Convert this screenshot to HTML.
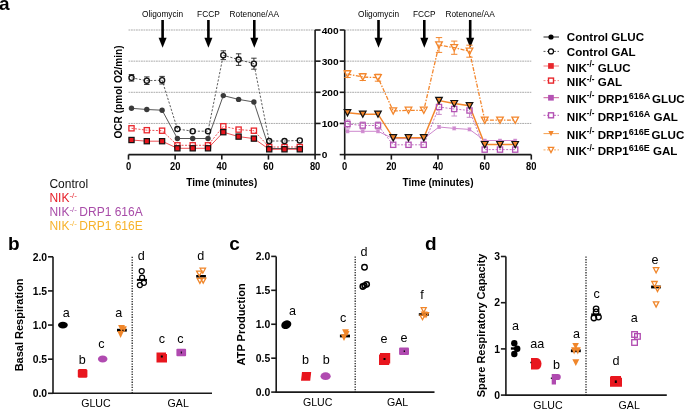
<!DOCTYPE html>
<html><head><meta charset="utf-8"><style>
html,body{margin:0;padding:0;background:#fff;width:685px;height:410px;overflow:hidden}
svg{display:block;font-family:"Liberation Sans", sans-serif;will-change:transform}
</style></head><body>
<svg width="685" height="410" viewBox="0 0 685 410" font-family='"Liberation Sans", sans-serif'>
<rect width="685" height="410" fill="#fff"/>
<text x="-1.0" y="9.9" font-size="19" font-weight="bold" text-anchor="start" fill="#000" >a</text>
<line x1="128.5" y1="123.44999999999999" x2="315.1" y2="123.44999999999999" stroke="#9c9c9c" stroke-width="0.85" stroke-dasharray="1.8,0.7"/>
<line x1="128.5" y1="92.3" x2="315.1" y2="92.3" stroke="#9c9c9c" stroke-width="0.85" stroke-dasharray="1.8,0.7"/>
<line x1="128.5" y1="61.14999999999999" x2="315.1" y2="61.14999999999999" stroke="#9c9c9c" stroke-width="0.85" stroke-dasharray="1.8,0.7"/>
<line x1="128.5" y1="30.0" x2="315.1" y2="30.0" stroke="#9c9c9c" stroke-width="0.85" stroke-dasharray="1.8,0.7"/>
<line x1="128.5" y1="154.6" x2="315.1" y2="154.6" stroke="#1a1a1a" stroke-width="1.6"/>
<line x1="315.1" y1="30.0" x2="315.1" y2="155.29999999999998" stroke="#1a1a1a" stroke-width="1.6"/>
<line x1="315.1" y1="154.6" x2="320.6" y2="154.6" stroke="#1a1a1a" stroke-width="1.6"/>
<line x1="315.1" y1="123.44999999999999" x2="320.6" y2="123.44999999999999" stroke="#1a1a1a" stroke-width="1.6"/>
<line x1="315.1" y1="92.3" x2="320.6" y2="92.3" stroke="#1a1a1a" stroke-width="1.6"/>
<line x1="315.1" y1="61.14999999999999" x2="320.6" y2="61.14999999999999" stroke="#1a1a1a" stroke-width="1.6"/>
<line x1="315.1" y1="30.0" x2="320.6" y2="30.0" stroke="#1a1a1a" stroke-width="1.6"/>
<line x1="128.5" y1="154.6" x2="128.5" y2="159.6" stroke="#1a1a1a" stroke-width="1.6"/>
<text transform="translate(128.5,169.8) scale(0.9,1)" font-size="10.4" font-weight="bold" text-anchor="middle" fill="#000" >0</text>
<line x1="175.15" y1="154.6" x2="175.15" y2="159.6" stroke="#1a1a1a" stroke-width="1.6"/>
<text transform="translate(175.15,169.8) scale(0.9,1)" font-size="10.4" font-weight="bold" text-anchor="middle" fill="#000" >20</text>
<line x1="221.8" y1="154.6" x2="221.8" y2="159.6" stroke="#1a1a1a" stroke-width="1.6"/>
<text transform="translate(221.8,169.8) scale(0.9,1)" font-size="10.4" font-weight="bold" text-anchor="middle" fill="#000" >40</text>
<line x1="268.45" y1="154.6" x2="268.45" y2="159.6" stroke="#1a1a1a" stroke-width="1.6"/>
<text transform="translate(268.45,169.8) scale(0.9,1)" font-size="10.4" font-weight="bold" text-anchor="middle" fill="#000" >60</text>
<line x1="315.1" y1="154.6" x2="315.1" y2="159.6" stroke="#1a1a1a" stroke-width="1.6"/>
<text transform="translate(315.1,169.8) scale(0.9,1)" font-size="10.4" font-weight="bold" text-anchor="middle" fill="#000" >80</text>
<text x="221.8" y="185.8" font-size="10" font-weight="bold" text-anchor="middle" fill="#000" >Time (minutes)</text>
<rect x="161.29999999999998" y="20" width="2.6" height="19" fill="#000"/>
<path d="M158.6 37.8 L166.6 37.8 L162.6 47.7 Z" fill="#000"/>
<text x="162.6" y="16.6" font-size="8.3" font-weight="normal" text-anchor="middle" fill="#000" >Oligomycin</text>
<rect x="207.1" y="20" width="2.6" height="19" fill="#000"/>
<path d="M204.4 37.8 L212.4 37.8 L208.4 47.7 Z" fill="#000"/>
<text x="208.4" y="16.6" font-size="8.3" font-weight="normal" text-anchor="middle" fill="#000" >FCCP</text>
<rect x="253.0" y="20" width="2.6" height="19" fill="#000"/>
<path d="M250.3 37.8 L258.3 37.8 L254.3 47.7 Z" fill="#000"/>
<text x="254.3" y="16.6" font-size="8.3" font-weight="normal" text-anchor="middle" fill="#000" >Rotenone/AA</text>
<line x1="344.7" y1="123.44999999999999" x2="531.3" y2="123.44999999999999" stroke="#9c9c9c" stroke-width="0.85" stroke-dasharray="1.8,0.7"/>
<line x1="344.7" y1="92.3" x2="531.3" y2="92.3" stroke="#9c9c9c" stroke-width="0.85" stroke-dasharray="1.8,0.7"/>
<line x1="344.7" y1="61.14999999999999" x2="531.3" y2="61.14999999999999" stroke="#9c9c9c" stroke-width="0.85" stroke-dasharray="1.8,0.7"/>
<line x1="344.7" y1="30.0" x2="531.3" y2="30.0" stroke="#9c9c9c" stroke-width="0.85" stroke-dasharray="1.8,0.7"/>
<line x1="344.7" y1="154.6" x2="531.3" y2="154.6" stroke="#1a1a1a" stroke-width="1.6"/>
<line x1="344.7" y1="30.0" x2="344.7" y2="155.29999999999998" stroke="#1a1a1a" stroke-width="1.6"/>
<line x1="339.7" y1="154.6" x2="344.7" y2="154.6" stroke="#1a1a1a" stroke-width="1.6"/>
<line x1="339.7" y1="123.44999999999999" x2="344.7" y2="123.44999999999999" stroke="#1a1a1a" stroke-width="1.6"/>
<line x1="339.7" y1="92.3" x2="344.7" y2="92.3" stroke="#1a1a1a" stroke-width="1.6"/>
<line x1="339.7" y1="61.14999999999999" x2="344.7" y2="61.14999999999999" stroke="#1a1a1a" stroke-width="1.6"/>
<line x1="339.7" y1="30.0" x2="344.7" y2="30.0" stroke="#1a1a1a" stroke-width="1.6"/>
<line x1="344.7" y1="154.6" x2="344.7" y2="159.6" stroke="#1a1a1a" stroke-width="1.6"/>
<text transform="translate(344.7,169.8) scale(0.9,1)" font-size="10.4" font-weight="bold" text-anchor="middle" fill="#000" >0</text>
<line x1="391.34999999999997" y1="154.6" x2="391.34999999999997" y2="159.6" stroke="#1a1a1a" stroke-width="1.6"/>
<text transform="translate(391.34999999999997,169.8) scale(0.9,1)" font-size="10.4" font-weight="bold" text-anchor="middle" fill="#000" >20</text>
<line x1="438.0" y1="154.6" x2="438.0" y2="159.6" stroke="#1a1a1a" stroke-width="1.6"/>
<text transform="translate(438.0,169.8) scale(0.9,1)" font-size="10.4" font-weight="bold" text-anchor="middle" fill="#000" >40</text>
<line x1="484.65" y1="154.6" x2="484.65" y2="159.6" stroke="#1a1a1a" stroke-width="1.6"/>
<text transform="translate(484.65,169.8) scale(0.9,1)" font-size="10.4" font-weight="bold" text-anchor="middle" fill="#000" >60</text>
<line x1="531.3" y1="154.6" x2="531.3" y2="159.6" stroke="#1a1a1a" stroke-width="1.6"/>
<text transform="translate(531.3,169.8) scale(0.9,1)" font-size="10.4" font-weight="bold" text-anchor="middle" fill="#000" >80</text>
<text x="438.0" y="185.8" font-size="10" font-weight="bold" text-anchor="middle" fill="#000" >Time (minutes)</text>
<rect x="377.2" y="20" width="2.6" height="19" fill="#000"/>
<path d="M374.5 37.8 L382.5 37.8 L378.5 47.7 Z" fill="#000"/>
<text x="378.5" y="16.6" font-size="8.3" font-weight="normal" text-anchor="middle" fill="#000" >Oligomycin</text>
<rect x="423.0" y="20" width="2.6" height="19" fill="#000"/>
<path d="M420.3 37.8 L428.3 37.8 L424.3 47.7 Z" fill="#000"/>
<text x="424.3" y="16.6" font-size="8.3" font-weight="normal" text-anchor="middle" fill="#000" >FCCP</text>
<rect x="468.90000000000003" y="20" width="2.6" height="19" fill="#000"/>
<path d="M466.20000000000005 37.8 L474.20000000000005 37.8 L470.20000000000005 47.7 Z" fill="#000"/>
<text x="470.20000000000005" y="16.6" font-size="8.3" font-weight="normal" text-anchor="middle" fill="#000" >Rotenone/AA</text>
<text transform="translate(321.7,158.2) scale(1.06,1)" font-size="9.6" font-weight="bold" text-anchor="start" fill="#000" >0</text>
<text transform="translate(321.7,127.04999999999998) scale(1.06,1)" font-size="9.6" font-weight="bold" text-anchor="start" fill="#000" >100</text>
<text transform="translate(321.7,95.89999999999999) scale(1.06,1)" font-size="9.6" font-weight="bold" text-anchor="start" fill="#000" >200</text>
<text transform="translate(321.7,64.74999999999999) scale(1.06,1)" font-size="9.6" font-weight="bold" text-anchor="start" fill="#000" >300</text>
<text transform="translate(321.7,33.6) scale(1.06,1)" font-size="9.6" font-weight="bold" text-anchor="start" fill="#000" >400</text>
<text transform="translate(122.1,92.0) rotate(-90)" font-size="10.1" font-weight="bold" text-anchor="middle">OCR (pmol O2/min)</text>
<polyline points="131.5,140.0 146.8,141.2 162.1,141.2 177.4,148.3 192.7,148.3 208.0,148.3 223.3,132.2 238.6,136.6 253.9,138.6 269.2,149.3 284.5,149.3 299.8,149.3" fill="none" stroke="#e8262c" stroke-width="0.8"/>
<polyline points="131.5,128.3 146.8,130.2 162.1,130.7 177.4,145.3 192.7,145.3 208.0,145.3 223.3,126.3 238.6,129.6 253.9,130.7 269.2,147.0 284.5,147.0 299.8,147.0" fill="none" stroke="#e8262c" stroke-width="0.8" stroke-dasharray="2,1.5"/>
<polyline points="131.5,108.3 146.8,109.5 162.1,110.2 177.4,138.5 192.7,138.5 208.0,138.5 223.3,95.6 238.6,99.4 253.9,102.0 269.2,148.5 284.5,148.5 299.8,148.5" fill="none" stroke="#444" stroke-width="0.9"/>
<polyline points="131.5,77.8 146.8,80.7 162.1,80.2 177.4,129.0 192.7,131.2 208.0,131.2 223.3,55.2 238.6,59.6 253.9,63.7 269.2,141.0 284.5,141.0 299.8,140.4" fill="none" stroke="#333" stroke-width="0.8" stroke-dasharray="2.2,1.6"/>
<path d="M131.5 74.5V75.3M131.5 80.3V81.1M128.8 74.5H134.2M128.8 81.1H134.2" stroke="#222" stroke-width="0.9" fill="none"/>
<path d="M146.8 76.9V78.2M146.8 83.2V84.5M144.1 76.9H149.5M144.1 84.5H149.5" stroke="#222" stroke-width="0.9" fill="none"/>
<path d="M162.1 76.4V77.7M162.1 82.7V84.0M159.4 76.4H164.8M159.4 84.0H164.8" stroke="#222" stroke-width="0.9" fill="none"/>
<path d="M223.3 50.8V52.7M223.3 57.7V59.6M220.6 50.8H226.0M220.6 59.6H226.0" stroke="#222" stroke-width="0.9" fill="none"/>
<path d="M238.6 53.8V57.1M238.6 62.1V65.4M235.9 53.8H241.3M235.9 65.4H241.3" stroke="#222" stroke-width="0.9" fill="none"/>
<path d="M253.9 58.2V61.2M253.9 66.2V69.2M251.2 58.2H256.6M251.2 69.2H256.6" stroke="#222" stroke-width="0.9" fill="none"/>
<circle cx="131.5" cy="108.3" r="2.7" fill="#3a3a3a" stroke="none" stroke-width="0"/>
<circle cx="146.8" cy="109.5" r="2.7" fill="#3a3a3a" stroke="none" stroke-width="0"/>
<circle cx="162.1" cy="110.2" r="2.7" fill="#3a3a3a" stroke="none" stroke-width="0"/>
<circle cx="177.4" cy="138.5" r="2.7" fill="#3a3a3a" stroke="none" stroke-width="0"/>
<circle cx="192.7" cy="138.5" r="2.7" fill="#3a3a3a" stroke="none" stroke-width="0"/>
<circle cx="208.0" cy="138.5" r="2.7" fill="#3a3a3a" stroke="none" stroke-width="0"/>
<circle cx="223.3" cy="95.6" r="2.7" fill="#3a3a3a" stroke="none" stroke-width="0"/>
<circle cx="238.6" cy="99.4" r="2.7" fill="#3a3a3a" stroke="none" stroke-width="0"/>
<circle cx="253.9" cy="102.0" r="2.7" fill="#3a3a3a" stroke="none" stroke-width="0"/>
<circle cx="269.2" cy="148.5" r="2.7" fill="#3a3a3a" stroke="none" stroke-width="0"/>
<circle cx="284.5" cy="148.5" r="2.7" fill="#3a3a3a" stroke="none" stroke-width="0"/>
<circle cx="299.8" cy="148.5" r="2.7" fill="#3a3a3a" stroke="none" stroke-width="0"/>
<rect x="128.9" y="125.7" width="5.2" height="5.2" fill="none" stroke="#e8262c" stroke-width="1.3"/>
<rect x="144.2" y="127.6" width="5.2" height="5.2" fill="none" stroke="#e8262c" stroke-width="1.3"/>
<rect x="159.5" y="128.1" width="5.2" height="5.2" fill="none" stroke="#e8262c" stroke-width="1.3"/>
<rect x="174.8" y="142.7" width="5.2" height="5.2" fill="none" stroke="#e8262c" stroke-width="1.3"/>
<rect x="190.1" y="142.7" width="5.2" height="5.2" fill="none" stroke="#e8262c" stroke-width="1.3"/>
<rect x="205.4" y="142.7" width="5.2" height="5.2" fill="none" stroke="#e8262c" stroke-width="1.3"/>
<rect x="220.7" y="123.7" width="5.2" height="5.2" fill="none" stroke="#e8262c" stroke-width="1.3"/>
<rect x="236.0" y="127.0" width="5.2" height="5.2" fill="none" stroke="#e8262c" stroke-width="1.3"/>
<rect x="251.3" y="128.1" width="5.2" height="5.2" fill="none" stroke="#e8262c" stroke-width="1.3"/>
<rect x="266.6" y="144.4" width="5.2" height="5.2" fill="none" stroke="#e8262c" stroke-width="1.3"/>
<rect x="281.9" y="144.4" width="5.2" height="5.2" fill="none" stroke="#e8262c" stroke-width="1.3"/>
<rect x="297.2" y="144.4" width="5.2" height="5.2" fill="none" stroke="#e8262c" stroke-width="1.3"/>
<rect x="128.9" y="137.4" width="5.2" height="5.2" fill="#e8141c" stroke="#111" stroke-width="1.2"/>
<rect x="144.2" y="138.6" width="5.2" height="5.2" fill="#e8141c" stroke="#111" stroke-width="1.2"/>
<rect x="159.5" y="138.6" width="5.2" height="5.2" fill="#e8141c" stroke="#111" stroke-width="1.2"/>
<rect x="174.8" y="145.7" width="5.2" height="5.2" fill="#e8141c" stroke="#111" stroke-width="1.2"/>
<rect x="190.1" y="145.7" width="5.2" height="5.2" fill="#e8141c" stroke="#111" stroke-width="1.2"/>
<rect x="205.4" y="145.7" width="5.2" height="5.2" fill="#e8141c" stroke="#111" stroke-width="1.2"/>
<rect x="220.7" y="129.6" width="5.2" height="5.2" fill="#e8141c" stroke="#111" stroke-width="1.2"/>
<rect x="236.0" y="134.0" width="5.2" height="5.2" fill="#e8141c" stroke="#111" stroke-width="1.2"/>
<rect x="251.3" y="136.0" width="5.2" height="5.2" fill="#e8141c" stroke="#111" stroke-width="1.2"/>
<rect x="266.6" y="146.7" width="5.2" height="5.2" fill="#e8141c" stroke="#111" stroke-width="1.2"/>
<rect x="281.9" y="146.7" width="5.2" height="5.2" fill="#e8141c" stroke="#111" stroke-width="1.2"/>
<rect x="297.2" y="146.7" width="5.2" height="5.2" fill="#e8141c" stroke="#111" stroke-width="1.2"/>
<circle cx="131.5" cy="77.8" r="2.55" fill="none" stroke="#111" stroke-width="1.4"/>
<circle cx="146.8" cy="80.7" r="2.55" fill="none" stroke="#111" stroke-width="1.4"/>
<circle cx="162.1" cy="80.2" r="2.55" fill="none" stroke="#111" stroke-width="1.4"/>
<circle cx="177.4" cy="129.0" r="2.55" fill="none" stroke="#111" stroke-width="1.4"/>
<circle cx="192.7" cy="131.2" r="2.55" fill="none" stroke="#111" stroke-width="1.4"/>
<circle cx="208.0" cy="131.2" r="2.55" fill="none" stroke="#111" stroke-width="1.4"/>
<circle cx="223.3" cy="55.2" r="2.55" fill="none" stroke="#111" stroke-width="1.4"/>
<circle cx="238.6" cy="59.6" r="2.55" fill="none" stroke="#111" stroke-width="1.4"/>
<circle cx="253.9" cy="63.7" r="2.55" fill="none" stroke="#111" stroke-width="1.4"/>
<circle cx="269.2" cy="141.0" r="2.55" fill="none" stroke="#111" stroke-width="1.4"/>
<circle cx="284.5" cy="141.0" r="2.55" fill="none" stroke="#111" stroke-width="1.4"/>
<circle cx="299.8" cy="140.4" r="2.55" fill="none" stroke="#111" stroke-width="1.4"/>
<polyline points="347.5,131.3 362.8,131.3 378.0,131.3 393.2,138.6 408.5,138.6 423.8,138.6 439.0,127.0 454.2,128.4 469.5,129.4 484.8,140.5 500.0,140.5 515.2,140.5" fill="none" stroke="#c77bc7" stroke-width="0.9"/>
<polyline points="347.5,124.0 362.8,125.5 378.0,125.5 393.2,144.8 408.5,144.8 423.8,144.8 439.0,107.0 454.2,109.0 469.5,110.5 484.8,149.6 500.0,149.6 515.2,149.6" fill="none" stroke="#b452b4" stroke-width="0.8" stroke-dasharray="2,1.5"/>
<polyline points="347.5,112.8 362.8,114.2 378.0,114.2 393.2,137.8 408.5,137.8 423.8,137.8 439.0,100.5 454.2,103.6 469.5,105.7 484.8,144.6 500.0,144.6 515.2,144.6" fill="none" stroke="#f3862c" stroke-width="1.5"/>
<polyline points="347.5,74.0 362.8,77.0 378.0,77.7 393.2,111.0 408.5,110.3 423.8,110.3 439.0,45.0 454.2,47.7 469.5,51.2 484.8,120.2 500.0,120.2 515.2,120.2" fill="none" stroke="#f3862c" stroke-width="1.3" stroke-dasharray="4,1.5,1.5,1.5"/>
<path d="M347.5 70.5V70.7M347.5 77.3V77.5M344.3 70.5H350.7M344.3 77.5H350.7" stroke="#f3862c" stroke-width="1.0" fill="none"/>
<path d="M362.8 73.5V73.7M362.8 80.3V80.5M359.6 73.5H365.9M359.6 80.5H365.9" stroke="#f3862c" stroke-width="1.0" fill="none"/>
<path d="M378.0 74.2V74.4M378.0 81.0V81.2M374.8 74.2H381.2M374.8 81.2H381.2" stroke="#f3862c" stroke-width="1.0" fill="none"/>
<path d="M439.0 37.6V41.7M439.0 48.3V52.4M435.8 37.6H442.2M435.8 52.4H442.2" stroke="#f3862c" stroke-width="1.0" fill="none"/>
<path d="M454.2 41.1V44.4M454.2 51.0V54.3M451.1 41.1H457.4M451.1 54.3H457.4" stroke="#f3862c" stroke-width="1.0" fill="none"/>
<path d="M469.5 45.2V47.9M469.5 54.5V57.2M466.3 45.2H472.7M466.3 57.2H472.7" stroke="#f3862c" stroke-width="1.0" fill="none"/>
<path d="M347.5 120.0V121.1M347.5 126.9V128.0M344.7 120.0H350.3M344.7 128.0H350.3" stroke="#c98ac9" stroke-width="1.0" fill="none"/>
<path d="M362.8 122.0V122.6M362.8 128.4V129.0M359.9 122.0H365.6M359.9 129.0H365.6" stroke="#c98ac9" stroke-width="1.0" fill="none"/>
<path d="M378.0 122.0V122.6M378.0 128.4V129.0M375.2 122.0H380.8M375.2 129.0H380.8" stroke="#c98ac9" stroke-width="1.0" fill="none"/>
<path d="M439.0 99.6V104.1M439.0 109.9V114.4M436.2 99.6H441.8M436.2 114.4H441.8" stroke="#c98ac9" stroke-width="1.0" fill="none"/>
<path d="M454.2 102.0V106.1M454.2 111.9V116.0M451.4 102.0H457.1M451.4 116.0H457.1" stroke="#c98ac9" stroke-width="1.0" fill="none"/>
<path d="M469.5 103.7V107.6M469.5 113.4V117.3M466.7 103.7H472.3M466.7 117.3H472.3" stroke="#c98ac9" stroke-width="1.0" fill="none"/>
<path d="M347.5 129.8V132.8M345.5 129.8H349.5M345.5 132.8H349.5" stroke="#d9a6d9" stroke-width="0.9" fill="none"/>
<path d="M362.8 129.8V132.8M360.8 129.8H364.8M360.8 132.8H364.8" stroke="#d9a6d9" stroke-width="0.9" fill="none"/>
<path d="M378.0 129.8V132.8M376.0 129.8H380.0M376.0 132.8H380.0" stroke="#d9a6d9" stroke-width="0.9" fill="none"/>
<path d="M393.2 137.6V139.6M391.2 137.6H395.2M391.2 139.6H395.2" stroke="#d9a6d9" stroke-width="0.9" fill="none"/>
<path d="M408.5 137.6V139.6M406.5 137.6H410.5M406.5 139.6H410.5" stroke="#d9a6d9" stroke-width="0.9" fill="none"/>
<path d="M423.8 137.6V139.6M421.8 137.6H425.8M421.8 139.6H425.8" stroke="#d9a6d9" stroke-width="0.9" fill="none"/>
<path d="M439.0 125.5V128.5M437.0 125.5H441.0M437.0 128.5H441.0" stroke="#d9a6d9" stroke-width="0.9" fill="none"/>
<path d="M454.2 126.9V129.9M452.2 126.9H456.2M452.2 129.9H456.2" stroke="#d9a6d9" stroke-width="0.9" fill="none"/>
<path d="M469.5 127.9V130.9M467.5 127.9H471.5M467.5 130.9H471.5" stroke="#d9a6d9" stroke-width="0.9" fill="none"/>
<path d="M484.8 139.3V141.7M482.8 139.3H486.8M482.8 141.7H486.8" stroke="#d9a6d9" stroke-width="0.9" fill="none"/>
<path d="M500.0 139.3V141.7M498.0 139.3H502.0M498.0 141.7H502.0" stroke="#d9a6d9" stroke-width="0.9" fill="none"/>
<path d="M515.2 139.3V141.7M513.2 139.3H517.2M513.2 141.7H517.2" stroke="#d9a6d9" stroke-width="0.9" fill="none"/>
<rect x="345.9" y="129.7" width="3.2" height="3.2" fill="#d08ad0" stroke="none" stroke-width="0"/>
<rect x="361.1" y="129.7" width="3.2" height="3.2" fill="#d08ad0" stroke="none" stroke-width="0"/>
<rect x="376.4" y="129.7" width="3.2" height="3.2" fill="#d08ad0" stroke="none" stroke-width="0"/>
<rect x="391.6" y="137.0" width="3.2" height="3.2" fill="#d08ad0" stroke="none" stroke-width="0"/>
<rect x="406.9" y="137.0" width="3.2" height="3.2" fill="#d08ad0" stroke="none" stroke-width="0"/>
<rect x="422.1" y="137.0" width="3.2" height="3.2" fill="#d08ad0" stroke="none" stroke-width="0"/>
<rect x="437.4" y="125.4" width="3.2" height="3.2" fill="#d08ad0" stroke="none" stroke-width="0"/>
<rect x="452.6" y="126.8" width="3.2" height="3.2" fill="#d08ad0" stroke="none" stroke-width="0"/>
<rect x="467.9" y="127.8" width="3.2" height="3.2" fill="#d08ad0" stroke="none" stroke-width="0"/>
<rect x="483.1" y="138.9" width="3.2" height="3.2" fill="#d08ad0" stroke="none" stroke-width="0"/>
<rect x="498.4" y="138.9" width="3.2" height="3.2" fill="#d08ad0" stroke="none" stroke-width="0"/>
<rect x="513.6" y="138.9" width="3.2" height="3.2" fill="#d08ad0" stroke="none" stroke-width="0"/>
<rect x="344.9" y="121.4" width="5.2" height="5.2" fill="none" stroke="#b452b4" stroke-width="1.3"/>
<rect x="360.1" y="122.9" width="5.2" height="5.2" fill="none" stroke="#b452b4" stroke-width="1.3"/>
<rect x="375.4" y="122.9" width="5.2" height="5.2" fill="none" stroke="#b452b4" stroke-width="1.3"/>
<rect x="390.6" y="142.2" width="5.2" height="5.2" fill="none" stroke="#b452b4" stroke-width="1.3"/>
<rect x="405.9" y="142.2" width="5.2" height="5.2" fill="none" stroke="#b452b4" stroke-width="1.3"/>
<rect x="421.1" y="142.2" width="5.2" height="5.2" fill="none" stroke="#b452b4" stroke-width="1.3"/>
<rect x="436.4" y="104.4" width="5.2" height="5.2" fill="none" stroke="#b452b4" stroke-width="1.3"/>
<rect x="451.6" y="106.4" width="5.2" height="5.2" fill="none" stroke="#b452b4" stroke-width="1.3"/>
<rect x="466.9" y="107.9" width="5.2" height="5.2" fill="none" stroke="#b452b4" stroke-width="1.3"/>
<rect x="482.1" y="147.0" width="5.2" height="5.2" fill="none" stroke="#b452b4" stroke-width="1.3"/>
<rect x="497.4" y="147.0" width="5.2" height="5.2" fill="none" stroke="#b452b4" stroke-width="1.3"/>
<rect x="512.6" y="147.0" width="5.2" height="5.2" fill="none" stroke="#b452b4" stroke-width="1.3"/>
<path d="M344.2 109.7H350.8L347.5 115.9Z" fill="#f3862c" stroke="#111" stroke-width="1.2" stroke-linejoin="miter"/>
<path d="M359.4 111.1H366.1L362.8 117.3Z" fill="#f3862c" stroke="#111" stroke-width="1.2" stroke-linejoin="miter"/>
<path d="M374.7 111.1H381.3L378.0 117.3Z" fill="#f3862c" stroke="#111" stroke-width="1.2" stroke-linejoin="miter"/>
<path d="M389.9 134.7H396.6L393.2 140.9Z" fill="#f3862c" stroke="#111" stroke-width="1.2" stroke-linejoin="miter"/>
<path d="M405.2 134.7H411.8L408.5 140.9Z" fill="#f3862c" stroke="#111" stroke-width="1.2" stroke-linejoin="miter"/>
<path d="M420.4 134.7H427.1L423.8 140.9Z" fill="#f3862c" stroke="#111" stroke-width="1.2" stroke-linejoin="miter"/>
<path d="M435.7 97.4H442.3L439.0 103.6Z" fill="#f3862c" stroke="#111" stroke-width="1.2" stroke-linejoin="miter"/>
<path d="M450.9 100.5H457.6L454.2 106.7Z" fill="#f3862c" stroke="#111" stroke-width="1.2" stroke-linejoin="miter"/>
<path d="M466.2 102.6H472.8L469.5 108.8Z" fill="#f3862c" stroke="#111" stroke-width="1.2" stroke-linejoin="miter"/>
<path d="M481.4 141.5H488.1L484.8 147.7Z" fill="#f3862c" stroke="#111" stroke-width="1.2" stroke-linejoin="miter"/>
<path d="M496.7 141.5H503.3L500.0 147.7Z" fill="#f3862c" stroke="#111" stroke-width="1.2" stroke-linejoin="miter"/>
<path d="M511.9 141.5H518.5L515.2 147.7Z" fill="#f3862c" stroke="#111" stroke-width="1.2" stroke-linejoin="miter"/>
<path d="M344.2 70.9H350.8L347.5 77.1Z" fill="none" stroke="#f3862c" stroke-width="1.3" stroke-linejoin="miter"/>
<path d="M359.4 73.9H366.1L362.8 80.1Z" fill="none" stroke="#f3862c" stroke-width="1.3" stroke-linejoin="miter"/>
<path d="M374.7 74.6H381.3L378.0 80.8Z" fill="none" stroke="#f3862c" stroke-width="1.3" stroke-linejoin="miter"/>
<path d="M389.9 107.9H396.6L393.2 114.1Z" fill="none" stroke="#f3862c" stroke-width="1.3" stroke-linejoin="miter"/>
<path d="M405.2 107.2H411.8L408.5 113.4Z" fill="none" stroke="#f3862c" stroke-width="1.3" stroke-linejoin="miter"/>
<path d="M420.4 107.2H427.1L423.8 113.4Z" fill="none" stroke="#f3862c" stroke-width="1.3" stroke-linejoin="miter"/>
<path d="M435.7 41.9H442.3L439.0 48.1Z" fill="none" stroke="#f3862c" stroke-width="1.3" stroke-linejoin="miter"/>
<path d="M450.9 44.6H457.6L454.2 50.8Z" fill="none" stroke="#f3862c" stroke-width="1.3" stroke-linejoin="miter"/>
<path d="M466.2 48.1H472.8L469.5 54.3Z" fill="none" stroke="#f3862c" stroke-width="1.3" stroke-linejoin="miter"/>
<path d="M481.4 117.1H488.1L484.8 123.3Z" fill="none" stroke="#f3862c" stroke-width="1.3" stroke-linejoin="miter"/>
<path d="M496.7 117.1H503.3L500.0 123.3Z" fill="none" stroke="#f3862c" stroke-width="1.3" stroke-linejoin="miter"/>
<path d="M511.9 117.1H518.5L515.2 123.3Z" fill="none" stroke="#f3862c" stroke-width="1.3" stroke-linejoin="miter"/>
<text x="566.8" y="41.0" font-size="11.6" font-weight="bold" text-anchor="start" fill="#000" >Control GLUC</text>
<line x1="543.5" y1="37.0" x2="559" y2="37.0" stroke="#222" stroke-width="1"/>
<circle cx="551.0" cy="37.0" r="2.6" fill="#000" stroke="none" stroke-width="0"/>
<text x="566.8" y="55.6" font-size="11.6" font-weight="bold" text-anchor="start" fill="#000" >Control GAL</text>
<line x1="543.5" y1="51.4" x2="559" y2="51.4" stroke="#444" stroke-width="0.9" stroke-dasharray="2,1.5"/>
<circle cx="551.0" cy="51.4" r="2.5" fill="#fff" stroke="#000" stroke-width="1.2"/>
<text x="566.8" y="71.7" font-size="11.6" font-weight="bold" text-anchor="start" fill="#000" >NIK<tspan dy="-4.8" font-size="8.2">-/-</tspan><tspan dy="4.8"> GLUC</tspan></text>
<line x1="543.5" y1="66.0" x2="559" y2="66.0" stroke="#f07a7a" stroke-width="1"/>
<rect x="548.1" y="63.1" width="5.7" height="5.7" fill="#e8262c" stroke="none" stroke-width="0"/>
<text x="566.8" y="86.4" font-size="11.6" font-weight="bold" text-anchor="start" fill="#000" >NIK<tspan dy="-4.8" font-size="8.2">-/-</tspan><tspan dy="4.8"> GAL</tspan></text>
<line x1="543.5" y1="80.6" x2="559" y2="80.6" stroke="#f07a7a" stroke-width="0.9" stroke-dasharray="2,1.5"/>
<rect x="548.5" y="78.1" width="5.0" height="5.0" fill="#fff" stroke="#e8262c" stroke-width="1.4"/>
<text x="566.8" y="102.5" font-size="11.6" font-weight="bold" text-anchor="start" fill="#000" >NIK<tspan dy="-4.8" font-size="8.2">-/-</tspan><tspan dy="4.8"> DRP1</tspan><tspan dy="-4" font-size="9">616A</tspan><tspan dy="4" dx="-1.5"> GLUC</tspan></text>
<line x1="543.5" y1="97.7" x2="559" y2="97.7" stroke="#c8609a" stroke-width="1"/>
<rect x="548.1" y="94.9" width="5.7" height="5.7" fill="#b452b4" stroke="none" stroke-width="0"/>
<text x="566.8" y="120.5" font-size="11.6" font-weight="bold" text-anchor="start" fill="#000" >NIK<tspan dy="-4.8" font-size="8.2">-/-</tspan><tspan dy="4.8"> DRP1</tspan><tspan dy="-4" font-size="9">616A</tspan><tspan dy="4"> GAL</tspan></text>
<line x1="543.5" y1="115.3" x2="559" y2="115.3" stroke="#b452b4" stroke-width="0.9" stroke-dasharray="2,1.5"/>
<rect x="548.5" y="112.8" width="5.0" height="5.0" fill="#fff" stroke="#b452b4" stroke-width="1.4"/>
<text x="566.8" y="138.79999999999998" font-size="11.6" font-weight="bold" text-anchor="start" fill="#000" >NIK<tspan dy="-4.8" font-size="8.2">-/-</tspan><tspan dy="4.8"> DRP1</tspan><tspan dy="-4" font-size="9">616E</tspan><tspan dy="4" dx="-1.5"> GLUC</tspan></text>
<line x1="543.5" y1="133.6" x2="559" y2="133.6" stroke="#f5a050" stroke-width="1"/>
<path d="M548.3 131.0H553.7L551.0 136.2Z" fill="#f3862c" stroke="none" stroke-width="0" stroke-linejoin="miter"/>
<text x="566.8" y="155.39999999999998" font-size="11.6" font-weight="bold" text-anchor="start" fill="#000" >NIK<tspan dy="-4.8" font-size="8.2">-/-</tspan><tspan dy="4.8"> DRP1</tspan><tspan dy="-4" font-size="9">616E</tspan><tspan dy="4"> GAL</tspan></text>
<line x1="543.5" y1="149.9" x2="559" y2="149.9" stroke="#f5a050" stroke-width="0.9" stroke-dasharray="2,1.5"/>
<path d="M548.3 147.3H553.7L551.0 152.5Z" fill="#fff" stroke="#f3862c" stroke-width="1.3" stroke-linejoin="miter"/>
<text x="49.4" y="187.9" font-size="12" font-weight="normal" text-anchor="start" fill="#111" >Control</text>
<text x="49.4" y="202.4" font-size="12" font-weight="normal" text-anchor="start" fill="#e61e28" >NIK<tspan dy="-4.5" font-size="8">-/-</tspan></text>
<text x="49.4" y="216.4" font-size="12" font-weight="normal" text-anchor="start" fill="#a84ca8" >NIK<tspan dy="-4.5" font-size="8">-/-</tspan><tspan dy="4.5" dx="-1"> DRP1 616A</tspan></text>
<text x="49.4" y="230.3" font-size="12" font-weight="normal" text-anchor="start" fill="#f7b22a" >NIK<tspan dy="-4.5" font-size="8">-/-</tspan><tspan dy="4.5" dx="-1"> DRP1 616E</tspan></text>
<text x="7.9" y="249.6" font-size="19" font-weight="bold" text-anchor="start" fill="#000" >b</text>
<line x1="53" y1="256.8" x2="53" y2="394.0" stroke="#1a1a1a" stroke-width="1.6"/>
<line x1="52.3" y1="393.3" x2="212" y2="393.3" stroke="#1a1a1a" stroke-width="1.6"/>
<line x1="48" y1="393.3" x2="53" y2="393.3" stroke="#1a1a1a" stroke-width="1.6"/>
<text x="47.1" y="397.0" font-size="10.4" font-weight="bold" text-anchor="end" fill="#000" >0.0</text>
<line x1="48" y1="359.175" x2="53" y2="359.175" stroke="#1a1a1a" stroke-width="1.6"/>
<text x="47.1" y="362.875" font-size="10.4" font-weight="bold" text-anchor="end" fill="#000" >0.5</text>
<line x1="48" y1="325.05" x2="53" y2="325.05" stroke="#1a1a1a" stroke-width="1.6"/>
<text x="47.1" y="328.75" font-size="10.4" font-weight="bold" text-anchor="end" fill="#000" >1.0</text>
<line x1="48" y1="290.925" x2="53" y2="290.925" stroke="#1a1a1a" stroke-width="1.6"/>
<text x="47.1" y="294.625" font-size="10.4" font-weight="bold" text-anchor="end" fill="#000" >1.5</text>
<line x1="48" y1="256.8" x2="53" y2="256.8" stroke="#1a1a1a" stroke-width="1.6"/>
<text x="47.1" y="260.5" font-size="10.4" font-weight="bold" text-anchor="end" fill="#000" >2.0</text>
<line x1="132.2" y1="256.8" x2="132.2" y2="393.3" stroke="#222" stroke-width="1.3" stroke-dasharray="1.3,1.3"/>
<text transform="translate(22.6,324.9) rotate(-90)" font-size="11" font-weight="bold" text-anchor="middle">Basal Respiration</text>
<text x="95.9" y="407.4" font-size="10.6" font-weight="normal" text-anchor="middle" fill="#000" >GLUC</text>
<text x="178.2" y="407.4" font-size="10.6" font-weight="normal" text-anchor="middle" fill="#000" >GAL</text>
<text x="229.2" y="249.6" font-size="19" font-weight="bold" text-anchor="start" fill="#000" >c</text>
<line x1="276.2" y1="256.40000000000003" x2="276.2" y2="392.8" stroke="#1a1a1a" stroke-width="1.6"/>
<line x1="275.5" y1="392.1" x2="434.5" y2="392.1" stroke="#1a1a1a" stroke-width="1.6"/>
<line x1="271.2" y1="392.1" x2="276.2" y2="392.1" stroke="#1a1a1a" stroke-width="1.6"/>
<text x="270.3" y="395.8" font-size="10.4" font-weight="bold" text-anchor="end" fill="#000" >0.0</text>
<line x1="271.2" y1="358.175" x2="276.2" y2="358.175" stroke="#1a1a1a" stroke-width="1.6"/>
<text x="270.3" y="361.875" font-size="10.4" font-weight="bold" text-anchor="end" fill="#000" >0.5</text>
<line x1="271.2" y1="324.25" x2="276.2" y2="324.25" stroke="#1a1a1a" stroke-width="1.6"/>
<text x="270.3" y="327.95" font-size="10.4" font-weight="bold" text-anchor="end" fill="#000" >1.0</text>
<line x1="271.2" y1="290.32500000000005" x2="276.2" y2="290.32500000000005" stroke="#1a1a1a" stroke-width="1.6"/>
<text x="270.3" y="294.02500000000003" font-size="10.4" font-weight="bold" text-anchor="end" fill="#000" >1.5</text>
<line x1="271.2" y1="256.40000000000003" x2="276.2" y2="256.40000000000003" stroke="#1a1a1a" stroke-width="1.6"/>
<text x="270.3" y="260.1" font-size="10.4" font-weight="bold" text-anchor="end" fill="#000" >2.0</text>
<line x1="355.2" y1="256.40000000000003" x2="355.2" y2="392.1" stroke="#222" stroke-width="1.3" stroke-dasharray="1.3,1.3"/>
<text transform="translate(244.7,324.4) rotate(-90)" font-size="11" font-weight="bold" text-anchor="middle">ATP Production</text>
<text x="317.7" y="406.3" font-size="10.6" font-weight="normal" text-anchor="middle" fill="#000" >GLUC</text>
<text x="397.5" y="406.3" font-size="10.6" font-weight="normal" text-anchor="middle" fill="#000" >GAL</text>
<text x="425.1" y="249.6" font-size="19" font-weight="bold" text-anchor="start" fill="#000" >d</text>
<line x1="505.9" y1="256.5" x2="505.9" y2="395.8" stroke="#1a1a1a" stroke-width="1.6"/>
<line x1="505.2" y1="395.1" x2="666.8" y2="395.1" stroke="#1a1a1a" stroke-width="1.6"/>
<line x1="500.9" y1="395.1" x2="505.9" y2="395.1" stroke="#1a1a1a" stroke-width="1.6"/>
<text x="500.0" y="398.8" font-size="10.4" font-weight="bold" text-anchor="end" fill="#000" >0</text>
<line x1="500.9" y1="348.90000000000003" x2="505.9" y2="348.90000000000003" stroke="#1a1a1a" stroke-width="1.6"/>
<text x="500.0" y="352.6" font-size="10.4" font-weight="bold" text-anchor="end" fill="#000" >1</text>
<line x1="500.9" y1="302.70000000000005" x2="505.9" y2="302.70000000000005" stroke="#1a1a1a" stroke-width="1.6"/>
<text x="500.0" y="306.40000000000003" font-size="10.4" font-weight="bold" text-anchor="end" fill="#000" >2</text>
<line x1="500.9" y1="256.5" x2="505.9" y2="256.5" stroke="#1a1a1a" stroke-width="1.6"/>
<text x="500.0" y="260.2" font-size="10.4" font-weight="bold" text-anchor="end" fill="#000" >3</text>
<line x1="586" y1="256.5" x2="586" y2="395.1" stroke="#222" stroke-width="1.3" stroke-dasharray="1.3,1.3"/>
<text transform="translate(484.5,325.4) rotate(-90)" font-size="11" font-weight="bold" text-anchor="middle">Spare Respiratory Capacity</text>
<text x="547.9" y="409.3" font-size="10.6" font-weight="normal" text-anchor="middle" fill="#000" >GLUC</text>
<text x="629.2" y="409.3" font-size="10.6" font-weight="normal" text-anchor="middle" fill="#000" >GAL</text>
<ellipse cx="62.9" cy="325.1" rx="4.9" ry="3.4" fill="#000"/>
<rect x="77.80" y="368.90" width="9.6" height="8.8" rx="1.5" fill="#e8161e"/>
<ellipse cx="102.7" cy="359" rx="4.8" ry="3.5" fill="#b04ab0"/>
<rect x="117.00" y="328.80" width="9.80" height="2.8" fill="#000"/>
<path d="M118.10 325.00H124.90L121.50 332.30Z" fill="#f0862a"/>
<path d="M121.80 326.20H126.80L124.30 332.20Z" fill="#f0862a"/>
<path d="M117.30 331.00H123.90L120.60 338.10Z" fill="#f0862a"/>
<rect x="136.90" y="278.90" width="10.10" height="2" fill="#000"/>
<circle cx="141.70" cy="271.10" r="2.5" fill="none" stroke="#000" stroke-width="1.25"/>
<circle cx="142.10" cy="277.70" r="2.5" fill="none" stroke="#000" stroke-width="1.25"/>
<circle cx="143.90" cy="282.80" r="2.5" fill="none" stroke="#000" stroke-width="1.25"/>
<circle cx="139.90" cy="285.00" r="2.5" fill="none" stroke="#000" stroke-width="1.25"/>
<rect x="196.20" y="275.00" width="9.70" height="2.6" fill="#000"/>
<path d="M200.10 268.20H205.50L202.80 273.20Z" fill="none" stroke="#f0862a" stroke-width="1.3" stroke-linejoin="miter"/>
<path d="M196.60 271.10H202.00L199.30 276.10Z" fill="none" stroke="#f0862a" stroke-width="1.3" stroke-linejoin="miter"/>
<path d="M197.20 278.40H202.60L199.90 283.40Z" fill="none" stroke="#f0862a" stroke-width="1.3" stroke-linejoin="miter"/>
<path d="M200.50 278.10H205.90L203.20 283.10Z" fill="none" stroke="#f0862a" stroke-width="1.3" stroke-linejoin="miter"/>
<path d="M156.5 352.5h9.5v1.5h1v8.5h-10.5z" fill="#e8161e"/>
<rect x="160.80" y="355.50" width="2" height="2" fill="#000"/>
<rect x="176.40" y="348.80" width="9.7" height="7.4" rx="1" fill="#b04ab0"/>
<rect x="180.80" y="351.50" width="1" height="2" fill="#000"/>
<text x="66.2" y="316.8" font-size="12.6" font-weight="normal" text-anchor="middle" fill="#000" >a</text>
<text x="82.3" y="363.7" font-size="12.6" font-weight="normal" text-anchor="middle" fill="#000" >b</text>
<text x="101.3" y="347.8" font-size="12.6" font-weight="normal" text-anchor="middle" fill="#000" >c</text>
<text x="118.7" y="316.8" font-size="12.6" font-weight="normal" text-anchor="middle" fill="#000" >a</text>
<text x="141.2" y="259.5" font-size="12.6" font-weight="normal" text-anchor="middle" fill="#000" >d</text>
<text x="200.7" y="259.5" font-size="12.6" font-weight="normal" text-anchor="middle" fill="#000" >d</text>
<text x="161.8" y="343" font-size="12.6" font-weight="normal" text-anchor="middle" fill="#000" >c</text>
<text x="180.3" y="343" font-size="12.6" font-weight="normal" text-anchor="middle" fill="#000" >c</text>
<ellipse cx="286.3" cy="324.7" rx="5.2" ry="4.2" transform="rotate(-25 286.3 324.7)" fill="#000"/>
<path d="M302 372h9.2l-1 8.7h-9.2z" fill="#e8161e"/>
<ellipse cx="325.6" cy="376.2" rx="5.1" ry="3.9" fill="#b04ab0"/>
<rect x="339.90" y="334.60" width="10.10" height="2.8" fill="#000"/>
<path d="M342.10 329.20H348.90L345.50 336.20Z" fill="#f0862a"/>
<path d="M340.70 334.20H347.30L344.00 341.10Z" fill="#f0862a"/>
<path d="M344.90 331.00H349.50L347.20 336.00Z" fill="#f0862a"/>
<text x="292.4" y="314.8" font-size="12.6" font-weight="normal" text-anchor="middle" fill="#000" >a</text>
<text x="305.6" y="364.2" font-size="12.6" font-weight="normal" text-anchor="middle" fill="#000" >b</text>
<text x="326.2" y="364.2" font-size="12.6" font-weight="normal" text-anchor="middle" fill="#000" >b</text>
<text x="343.2" y="321.5" font-size="12.6" font-weight="normal" text-anchor="middle" fill="#000" >c</text>
<circle cx="364.50" cy="267.30" r="2.75" fill="none" stroke="#000" stroke-width="1.4"/>
<circle cx="362.80" cy="286.50" r="2.6" fill="none" stroke="#000" stroke-width="1.6"/>
<circle cx="366.70" cy="284.30" r="2.6" fill="none" stroke="#000" stroke-width="1.6"/>
<circle cx="364.50" cy="285.50" r="2.4" fill="none" stroke="#000" stroke-width="1.5"/>
<text x="364" y="255.7" font-size="12.6" font-weight="normal" text-anchor="middle" fill="#000" >d</text>
<path d="M380 353.1h10.2v10.5h-1v1.4h-10.2v-10.5h1z" fill="#e8161e"/>
<rect x="383.50" y="358.00" width="2" height="2" fill="#000"/>
<rect x="399.10" y="347.60" width="9.9" height="7.3" rx="1" fill="#b04ab0"/>
<rect x="403.70" y="350.40" width="1.2" height="1.6" fill="#000"/>
<rect x="418.80" y="313.20" width="10.00" height="2.6" fill="#000"/>
<path d="M421.20 307.70H426.20L423.70 312.30Z" fill="none" stroke="#f0862a" stroke-width="1.3" stroke-linejoin="miter"/>
<path d="M421.70 312.10H426.70L424.20 316.70Z" fill="none" stroke="#f0862a" stroke-width="1.3" stroke-linejoin="miter"/>
<path d="M420.00 315.10H425.00L422.50 319.70Z" fill="none" stroke="#f0862a" stroke-width="1.3" stroke-linejoin="miter"/>
<path d="M423.50 312.60H428.50L426.00 317.20Z" fill="none" stroke="#f0862a" stroke-width="1.3" stroke-linejoin="miter"/>
<text x="384" y="342.8" font-size="12.6" font-weight="normal" text-anchor="middle" fill="#000" >e</text>
<text x="403.9" y="342.2" font-size="12.6" font-weight="normal" text-anchor="middle" fill="#000" >e</text>
<text x="422" y="298.8" font-size="12.6" font-weight="normal" text-anchor="middle" fill="#000" >f</text>
<rect x="510.90" y="347.30" width="9.10" height="2.4" fill="#000"/>
<circle cx="514.3" cy="343.3" r="3.2" fill="#000"/>
<circle cx="517.2" cy="348.7" r="3.2" fill="#000"/>
<circle cx="514.3" cy="354" r="3.2" fill="#000"/>
<path d="M531 358h6a4.5 5.8 0 0 1 0 11.6h-6z" fill="#e8161e"/>
<rect x="530.30" y="361.75" width="1" height="1.5" fill="#000"/>
<path d="M551.7 373.9h6.1a3 3.1 0 0 1 3 3.1v0a3 3.1 0 0 1 -3 3.1h-1.8v4.3h-4.3z" fill="#b04ab0"/>
<rect x="550.80" y="377.60" width="1.2" height="1.2" fill="#000"/>
<rect x="570.90" y="349.40" width="9.90" height="2.8" fill="#000"/>
<path d="M572.30 343.10H578.90L575.60 349.30Z" fill="#f0862a"/>
<path d="M571.10 347.20H577.10L574.10 354.50Z" fill="#f0862a"/>
<path d="M574.80 347.20H580.80L577.80 354.50Z" fill="#f0862a"/>
<path d="M572.30 359.20H579.30L575.80 366.00Z" fill="#f0862a"/>
<text x="515.4" y="330" font-size="12.6" font-weight="normal" text-anchor="middle" fill="#000" >a</text>
<text x="537.2" y="347.8" font-size="12.6" font-weight="normal" text-anchor="middle" fill="#000" >aa</text>
<text x="556.5" y="368.5" font-size="12.6" font-weight="normal" text-anchor="middle" fill="#000" >b</text>
<text x="576.6" y="338.4" font-size="12.6" font-weight="normal" text-anchor="middle" fill="#000" >a</text>
<rect x="591.20" y="313.40" width="9.70" height="2.4" fill="#000"/>
<circle cx="596.10" cy="308.80" r="2.75" fill="none" stroke="#000" stroke-width="1.3"/>
<circle cx="596.10" cy="311.90" r="2.75" fill="none" stroke="#000" stroke-width="1.3"/>
<circle cx="593.90" cy="318.00" r="2.75" fill="none" stroke="#000" stroke-width="1.3"/>
<circle cx="598.50" cy="317.10" r="2.75" fill="none" stroke="#000" stroke-width="1.3"/>
<text x="596.6" y="297.8" font-size="12.6" font-weight="normal" text-anchor="middle" fill="#000" >c</text>
<path d="M610.5 376h10.5v1.8h1v9h-12v-9.8h0.5z" fill="#e8161e"/>
<rect x="614.80" y="380.40" width="2" height="2.6" fill="#000"/>
<rect x="631.75" y="331.70" width="5.6" height="5.6" fill="none" stroke="#b04ab0" stroke-width="1.3"/>
<rect x="634.65" y="333.60" width="5.6" height="5.6" fill="none" stroke="#b04ab0" stroke-width="1.3"/>
<rect x="631.75" y="339.70" width="5.6" height="5.6" fill="none" stroke="#b04ab0" stroke-width="1.3"/>
<text x="616" y="365" font-size="12.6" font-weight="normal" text-anchor="middle" fill="#000" >d</text>
<text x="634.2" y="322.2" font-size="12.6" font-weight="normal" text-anchor="middle" fill="#000" >a</text>
<rect x="651.10" y="285.60" width="9.80" height="2.8" fill="#000"/>
<path d="M653.40 267.70H658.80L656.10 272.90Z" fill="none" stroke="#f0862a" stroke-width="1.3" stroke-linejoin="miter"/>
<path d="M651.80 281.50H657.20L654.50 286.70Z" fill="none" stroke="#f0862a" stroke-width="1.3" stroke-linejoin="miter"/>
<path d="M654.80 286.40H660.20L657.50 291.60Z" fill="none" stroke="#f0862a" stroke-width="1.3" stroke-linejoin="miter"/>
<path d="M653.40 301.90H658.80L656.10 307.10Z" fill="none" stroke="#f0862a" stroke-width="1.3" stroke-linejoin="miter"/>
<text x="655.1" y="263.7" font-size="12.6" font-weight="normal" text-anchor="middle" fill="#000" >e</text>
</svg></body></html>
